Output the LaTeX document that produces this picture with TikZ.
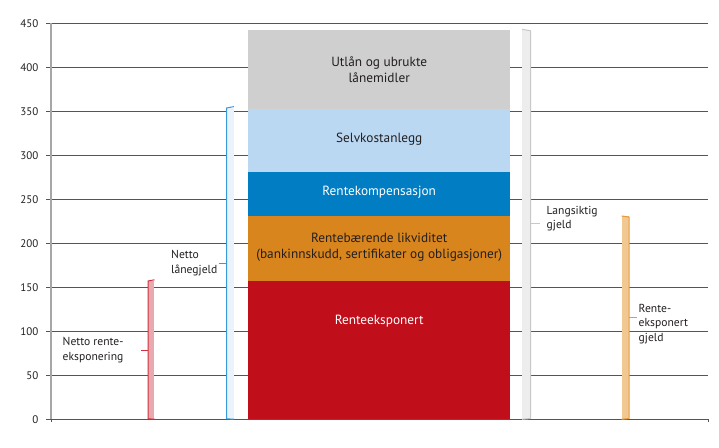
\documentclass[tikz,border=0pt]{standalone}
\usepackage{fontspec}
\setmainfont{PT Sans}
\definecolor{gridc}{HTML}{555555}
\definecolor{axisc}{HTML}{A6A6A6}
\definecolor{cgray}{HTML}{CFCFCF}
\definecolor{clblue}{HTML}{BBD8F3}
\definecolor{cblue}{HTML}{007DC3}
\definecolor{corange}{HTML}{D9851E}
\definecolor{cred}{HTML}{C00F1B}
\definecolor{txt}{HTML}{231F20}
\definecolor{redfill}{HTML}{E8AAAE}
\definecolor{redline}{HTML}{D0313F}
\definecolor{bluefill}{HTML}{EAF3FC}
\definecolor{blueline}{HTML}{3A9AD9}
\definecolor{grayfill}{HTML}{EDEDED}
\definecolor{grayline}{HTML}{C8C8C8}
\definecolor{orfill}{HTML}{F1C792}
\definecolor{orline}{HTML}{E69B3A}
\begin{document}
\begin{tikzpicture}[x=1pt,y=-1pt,
  grid/.style={draw=gridc,line width=1pt},
  ticklabel/.style={anchor=east,inner sep=0pt,text=txt,font=\fontsize{11}{13}\selectfont},
  bartext/.style={inner sep=0pt,align=center,font=\fontsize{13.3}{15.8}\selectfont},
  lbl/.style={anchor=west,inner sep=0pt,align=left,text=txt,font=\fontsize{11.6}{14.3}\selectfont},
  brline/.style={line width=1pt,line join=round}]
\useasboundingbox (0,0) rectangle (719,447);
\fill[white] (0,0) rectangle (719,447);
% grid and ticks
\foreach \v in {0,50,...,450}{
  \pgfmathsetmacro{\yy}{419.3-0.88*\v}
  \draw[grid] (46,\yy) -- (708,\yy);
  \node[ticklabel] (t\v) at (38.5,\yy) {\v};
}
\draw[grid] (51,419.3) -- (51,422);
\draw[grid] (708,419.3) -- (708,422);
\draw[axisc,line width=1.6pt] (51,23.3) -- (51,419.3);
% stacked bar
\fill[cgray] (248,30.3) rectangle (510.3,109.3);
\fill[clblue] (248,109.3) rectangle (510.3,172.3);
\fill[cblue] (248,172.3) rectangle (510.3,215.7);
\fill[corange] (248,215.7) rectangle (510.3,281);
\fill[cred] (248,281) rectangle (510.3,419.3);
\node[bartext,text=txt] (b1) at (379.2,69.5) {Utlån og ubrukte\\lånemidler};
\node[bartext,text=txt] (b2) at (379.2,139.5) {Selvkostanlegg};
\node[bartext,text=white] (b3) at (379.2,192.5) {Rentekompensasjon};
\node[bartext,text=txt] (b4) at (379.2,247.5) {Rentebærende likviditet\\(bankinnskudd, sertifikater og obligasjoner)};
\node[bartext,text=white] (b5) at (379.2,321) {Renteeksponert};
% red bracket
\fill[redfill] (148,280.7) rectangle (154,419.3);
\draw[brline,redline] (154.5,279.8) -- (148,281) -- (148,418.8) -- (154.5,419.2);
\coordinate (rm) at (148,350);
\coordinate (rt) at (140.5,350);
\draw[brline,redline] (rm) -- (rt);
\node[lbl] (l1) at (62.5,350) {Netto rente-\\eksponering};
% light blue bracket
\fill[bluefill] (226.5,107.5) rectangle (234,419.3);
\draw[brline,blueline] (234,106.6) -- (226.5,108) -- (226.5,418.8) -- (234,419.2);
\coordinate (bm) at (226.5,263.3);
\coordinate (bt) at (219,263.3);
\draw[brline,blueline] (bm) -- (bt);
\node[lbl] (l2) at (171,263) {Netto\\lånegjeld};
% gray bracket
\fill[grayfill] (522,29.5) rectangle (530.7,419.3);
\draw[brline,grayline] (522,29.3) -- (530.5,30.8) -- (530.5,418.5) -- (522,419.3);
\coordinate (gm) at (530.5,223.5);
\coordinate (gt) at (540,223.5);
\draw[brline,grayline] (gm) -- (gt);
\node[lbl] (l3) at (546.5,218.5) {Langsiktig\\gjeld};
% orange bracket
\fill[orfill] (622,216) rectangle (629,419.3);
\draw[brline,orline] (621.7,216) -- (629,217) -- (629,418.5) -- (621.7,419.3);
\coordinate (om) at (629,317.3);
\coordinate (ot) at (637,317.3);
\draw[brline,orline] (om) -- (ot);
\node[lbl] (l4) at (638.5,324) {Rente-\\eksponert\\gjeld};
\end{tikzpicture}
\end{document}
